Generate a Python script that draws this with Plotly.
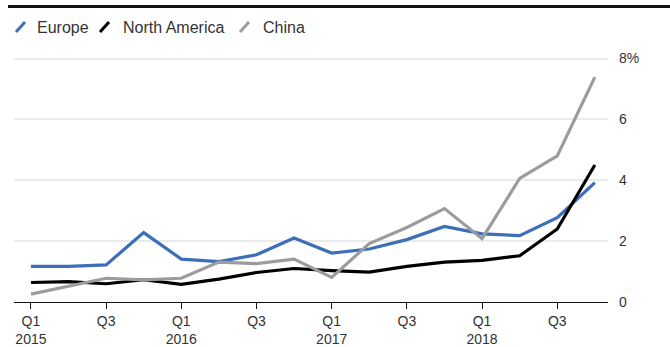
import plotly.graph_objects as go

quarters = ["Q1 2015", "Q2 2015", "Q3 2015", "Q4 2015",
            "Q1 2016", "Q2 2016", "Q3 2016", "Q4 2016",
            "Q1 2017", "Q2 2017", "Q3 2017", "Q4 2017",
            "Q1 2018", "Q2 2018", "Q3 2018", "Q4 2018"]
europe = [1.17, 1.17, 1.22, 2.28, 1.41, 1.33, 1.55, 2.10,
          1.61, 1.74, 2.05, 2.48, 2.24, 2.18, 2.77, 3.92]
north_america = [0.64, 0.67, 0.60, 0.73, 0.58, 0.75, 0.97, 1.10,
                 1.03, 0.98, 1.17, 1.31, 1.37, 1.52, 2.40, 4.50]
china = [0.26, 0.51, 0.78, 0.73, 0.78, 1.31, 1.26, 1.41,
         0.81, 1.92, 2.45, 3.07, 2.08, 4.06, 4.80, 7.39]

tick_idx = [0, 2, 4, 6, 8, 10, 12, 14]
tick_text = ["Q1<br>2015", "Q3", "Q1<br>2016", "Q3", "Q1<br>2017", "Q3", "Q1<br>2018", "Q3"]
y_ticks = [0, 2, 4, 6, 8]
y_text = ["0", "2", "4", "6", "8%"]

series = [("Europe", europe, "#3d6fb8"),
          ("North America", north_america, "#000000"),
          ("China", china, "#9c9c9c")]

W, H = 670, 347
L, R, T, B = 14, 62, 57, 45
FONT = "Liberation Sans, Arial, sans-serif"

def px(xp):
    return (xp - L) / (W - L - R)

def py(yp):
    return (H - B - yp) / (H - T - B)

x = list(range(len(quarters)))
fig = go.Figure()
for name, vals, col in series:
    fig.add_trace(go.Scatter(x=x, y=vals, mode="lines", name=name,
                             line=dict(color=col, width=3.2),
                             hovertext=quarters))

shapes = []
annotations = []
# top rule
shapes.append(dict(type="line", xref="paper", yref="paper",
                   x0=px(8), x1=px(672), y0=py(6.5), y1=py(6.5),
                   line=dict(color="#111111", width=3)))
# custom legend
legend_pos = [(15, 36), (99, 122), (239, 262)]
for (gx, tx), (name, _, col) in zip(legend_pos, series):
    shapes.append(dict(type="line", xref="paper", yref="paper",
                       x0=px(gx + 1), x1=px(gx + 10), y0=py(32), y1=py(22),
                       line=dict(color=col, width=3)))
    annotations.append(dict(text=name, xref="paper", yref="paper",
                            x=px(tx - 1), y=py(27), xanchor="left", yanchor="middle",
                            showarrow=False,
                            font=dict(family=FONT, size=16, color="#333333")))

fig.update_layout(
    width=W, height=H,
    margin=dict(l=L, r=R, t=T, b=B, autoexpand=False),
    paper_bgcolor="white", plot_bgcolor="white",
    showlegend=False,
    shapes=shapes, annotations=annotations,
    font=dict(family=FONT, size=14, color="#333333"),
)
fig.update_xaxes(range=[-0.45, 15.35], tickvals=tick_idx, ticktext=tick_text,
                 automargin=False,
                 showgrid=False, zeroline=False, showline=True,
                 linecolor="#111111", linewidth=1,
                 ticks="outside", ticklen=6, tickcolor="#111111", tickwidth=1,
                 tickfont=dict(family=FONT, size=14, color="#333333"))
fig.update_yaxes(range=[0, 8.05], side="right", tickvals=y_ticks, ticktext=y_text,
                 automargin=False,
                 showgrid=True, gridcolor="#ebebeb", gridwidth=1.5,
                 zeroline=False, showline=False, ticks="",
                 ticklabelstandoff=10,
                 tickfont=dict(family=FONT, size=14, color="#333333"))

fig.write_html("out.html")
